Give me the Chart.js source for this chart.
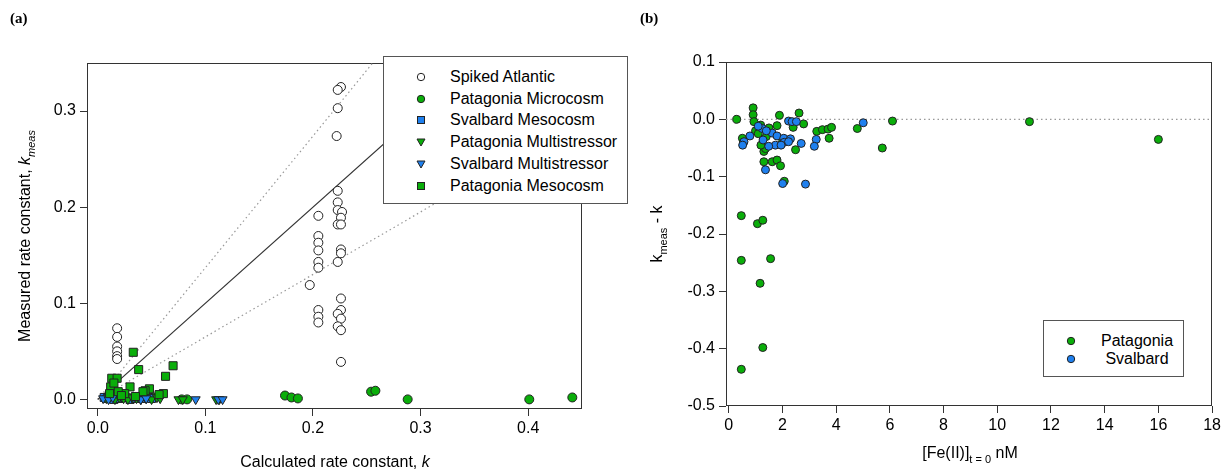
<!DOCTYPE html>
<html>
<head>
<meta charset="utf-8">
<script src="https://cdn.jsdelivr.net/npm/chart.js@4.4.1/dist/chart.umd.min.js"></script>
<style>
  body { margin: 0; background: #fff; }
  #wrap { position: relative; width: 1224px; height: 472px; overflow: hidden;
          font-family: "Liberation Sans", Arial, sans-serif; color: #000; }
  canvas { position: absolute; top: 0; }
  .lbl { position: absolute; font-size: 16px; white-space: nowrap; line-height: 18px; }
  .lbl sub { font-size: 11px; }
  .panel { position: absolute; font: bold 15px "Liberation Serif", "Times New Roman", serif; }
  .legend { position: absolute; background: #fff; border: 1px solid #555; box-sizing: border-box; }
  .row { position: absolute; height: 20px; line-height: 20px; font-size: 16px; white-space: nowrap; }
  .row svg { position: absolute; top: 4px; }
</style>
</head>
<body>
<div id="wrap">
  <canvas id="chartA" width="612" height="472" style="left:0"></canvas>
  <canvas id="chartB" width="612" height="472" style="left:612px"></canvas>

  <div class="panel" style="left:10px;top:10px">(a)</div>
  <div class="panel" style="left:640px;top:10px">(b)</div>

  <div class="lbl" style="left:28px;top:236px;transform:translate(-50%,-50%) rotate(-90deg)">Measured rate constant, <i>k</i><sub><i>meas</i></sub></div>
  <div class="lbl" style="left:335px;top:462px;transform:translate(-50%,-50%)">Calculated rate constant, <i>k</i></div>
  <div class="lbl" style="left:660px;top:234px;transform:translate(-50%,-50%) rotate(-90deg)">k<sub>meas</sub> - k</div>
  <div class="lbl" style="left:970px;top:456px;transform:translate(-50%,-50%)">[Fe(II)]<sub>t = 0</sub> nM</div>

  <div class="legend" id="legA" style="left:383px;top:56px;width:245px;height:148px"></div>
  <div class="legend" id="legB" style="left:1043px;top:320px;width:141px;height:57px"></div>
</div>

<script>
// ---------- panel (a): measured vs calculated rate constant ----------
const kTicksX = [0, 0.1, 0.2, 0.3, 0.4];
const kTicksY = [0, 0.1, 0.2, 0.3];

const spikedX = [0.018, 0.018, 0.018, 0.018, 0.018, 0.018,
  0.205, 0.205, 0.205, 0.205, 0.205, 0.205, 0.197, 0.205, 0.205, 0.205,
  0.226, 0.223, 0.223, 0.222, 0.223, 0.223, 0.223, 0.227, 0.226, 0.223, 0.226,
  0.226, 0.226, 0.223, 0.226, 0.226, 0.223, 0.226, 0.223, 0.226, 0.226];
const spikedY = [0.074, 0.065, 0.055, 0.050, 0.045, 0.042,
  0.191, 0.170, 0.163, 0.155, 0.143, 0.137, 0.119, 0.093, 0.086, 0.080,
  0.325, 0.322, 0.303, 0.274, 0.217, 0.205, 0.197, 0.195, 0.189, 0.182, 0.182,
  0.156, 0.152, 0.143, 0.105, 0.093, 0.089, 0.084, 0.076, 0.072, 0.039];

const patMicroX = [0.013, 0.028, 0.052, 0.078, 0.083, 0.174, 0.180, 0.186, 0.254, 0.258, 0.288, 0.401, 0.441];
const patMicroY = [0.004, 0.002, 0.002, 0.000, 0.000, 0.004, 0.002, 0.001, 0.008, 0.009, 0.000, 0.000, 0.002];

const svalMesoX = [0.006, 0.009, 0.012, 0.015, 0.020, 0.025, 0.030, 0.035, 0.038, 0.041, 0.044, 0.047, 0.050];
const svalMesoY = [0.002, 0.001, 0.003, 0.000, 0.001, 0.002, 0.000, 0.001, 0.002, 0.001, 0.003, 0.002, 0.001];

const patMultiX = [0.008, 0.012, 0.016, 0.020, 0.024, 0.028, 0.032, 0.036, 0.040, 0.045, 0.050, 0.055, 0.058, 0.075, 0.079, 0.110, 0.113];
const patMultiY = [0.001, 0.003, 0.000, 0.002, 0.001, 0.000, 0.002, 0.001, 0.000, 0.001, 0.000, 0.002, 0.001, 0.000, 0.000, 0.000, 0.000];

const svalMultiX = [0.005, 0.010, 0.014, 0.040, 0.045, 0.091, 0.112, 0.116];
const svalMultiY = [0.001, 0.000, 0.002, 0.000, 0.001, 0.000, 0.000, 0.000];

const patMesoX = [0.033, 0.038, 0.070, 0.063, 0.013, 0.018, 0.030, 0.048, 0.044, 0.025, 0.042, 0.061, 0.057, 0.012, 0.011, 0.019, 0.015, 0.022, 0.035];
const patMesoY = [0.049, 0.031, 0.035, 0.024, 0.022, 0.022, 0.013, 0.011, 0.009, 0.006, 0.008, 0.006, 0.005, 0.013, 0.006, 0.008, 0.017, 0.004, 0.003];

// reference lines: 1:1 and the two dotted bounds
const oneToOneX = [0, 0.45], oneToOneY = [0, 0.45];
const upperX = [0, 0.2555], upperY = [0, 0.35];
const lowerX = [0, 0.45], lowerY = [0, 0.2925];

// ---------- panel (b): k_meas - k vs [Fe(II)] ----------
const feTicks = [0, 2, 4, 6, 8, 10, 12, 14, 16, 18];
const diffTicks = [0.1, 0, -0.1, -0.2, -0.3, -0.4, -0.5];

const patFeX = [0.30, 0.91, 0.91, 0.94, 1.89, 2.62, 2.79, 2.40, 1.80, 1.19, 1.00, 3.28, 3.49, 3.70, 3.83, 3.74,
  4.79, 6.10, 5.72, 2.49, 1.31, 1.37, 0.51, 1.31, 1.62, 1.80, 1.93, 2.07, 11.2, 16.0,
  0.47, 1.07, 1.27, 0.47, 1.56, 1.17, 1.27, 0.47, 1.10, 1.40, 1.50, 2.00, 1.20, 0.55];
const patFeY = [0.000, 0.020, 0.008, -0.004, 0.007, 0.011, -0.008, -0.014, -0.011, -0.010, -0.020, -0.021, -0.018, -0.017, -0.014, -0.033,
  -0.016, -0.003, -0.050, -0.053, -0.056, -0.051, -0.033, -0.074, -0.074, -0.071, -0.081, -0.108, -0.004, -0.035,
  -0.168, -0.182, -0.176, -0.246, -0.243, -0.286, -0.398, -0.436, -0.025, -0.030, -0.015, -0.040, -0.045, -0.040];

const svalFeX = [2.23, 2.36, 2.52, 5.01, 1.25, 0.79, 0.57, 0.52, 1.28, 1.62, 1.80, 2.05, 2.30, 2.07, 1.74, 1.49,
  1.95, 2.23, 2.70, 3.26, 3.19, 1.37, 2.01, 2.86, 1.40, 1.10];
const svalFeY = [-0.003, -0.004, -0.004, -0.006, -0.016, -0.029, -0.039, -0.045, -0.036, -0.024, -0.029, -0.033, -0.034, -0.040, -0.045, -0.047,
  -0.045, -0.039, -0.042, -0.035, -0.047, -0.088, -0.112, -0.113, -0.020, -0.012];

const zeroX = [-0.1, 18], zeroY = [0, 0];

const green = '#0aae0a';
const blue = '#1f80ee';
const edge = '#222';

Chart.defaults.font.family = '"Liberation Sans", Arial, sans-serif';
Chart.defaults.font.size = 16;
Chart.defaults.color = '#000';

function pts(xs, ys) {
  return xs.map((x, i) => ({ x: x, y: ys[i] }));
}

// full box around the plot area
const frame = {
  id: 'frame',
  beforeDatasetsDraw(chart) {
    const a = chart.chartArea, ctx = chart.ctx;
    ctx.save();
    ctx.strokeStyle = '#333';
    ctx.lineWidth = 1;
    ctx.strokeRect(Math.round(a.left) + 0.5, Math.round(a.top) + 0.5,
      Math.round(a.right - a.left) - 1, Math.round(a.bottom - a.top) - 1);
    ctx.restore();
  }
};

function axis(min, max, ticks, fmt, size, isX) {
  return {
    type: 'linear',
    min: min,
    max: max,
    afterBuildTicks: s => { s.ticks = ticks.map(v => ({ value: v })); },
    afterFit: s => { if (isX) s.height = size; else s.width = size; },
    ticks: { callback: fmt, padding: isX ? 3 : 4, maxRotation: 0, autoSkip: false, font: { size: 16 } },
    grid: { drawOnChartArea: false, tickLength: 7, color: '#333' },
    border: { display: false }
  };
}

function markers(label, xs, ys, style, radius, fill, extra) {
  return Object.assign({
    label: label,
    data: pts(xs, ys),
    pointStyle: style,
    pointRadius: radius,
    pointHoverRadius: radius,
    pointBackgroundColor: fill,
    pointBorderColor: edge,
    pointBorderWidth: 1,
    order: 1
  }, extra || {});
}

function refLine(xs, ys, color, dash) {
  return {
    data: pts(xs, ys),
    showLine: true,
    borderColor: color,
    borderWidth: 1.2,
    borderDash: dash,
    pointRadius: 0,
    order: 10
  };
}

const fmt1 = v => Number(v).toFixed(1);

new Chart(document.getElementById('chartA'), {
  type: 'scatter',
  data: {
    datasets: [
      refLine(oneToOneX, oneToOneY, '#333', []),
      refLine(upperX, upperY, '#999', [1.5, 3]),
      refLine(lowerX, lowerY, '#999', [1.5, 3]),
      markers('Patagonia Mesocosm', patMesoX, patMesoY, 'rect', 5.7, green),
      markers('Svalbard Multistressor', svalMultiX, svalMultiY, 'triangle', 5.2, blue, { pointRotation: 180 }),
      markers('Patagonia Multistressor', patMultiX, patMultiY, 'triangle', 5.2, green, { pointRotation: 180 }),
      markers('Svalbard Mesocosm', svalMesoX, svalMesoY, 'rect', 5.7, blue),
      markers('Patagonia Microcosm', patMicroX, patMicroY, 'circle', 4.5, green),
      markers('Spiked Atlantic', spikedX, spikedY, 'circle', 4.5, '#fff')
    ]
  },
  options: {
    responsive: false,
    animation: false,
    layout: { padding: { left: 0, top: 63, right: 30, bottom: 0 } },
    plugins: { legend: { display: false }, tooltip: { enabled: false } },
    scales: {
      x: axis(-0.01, 0.45, kTicksX, fmt1, 63, true),
      y: axis(-0.01, 0.35, kTicksY, fmt1, 87, false)
    }
  },
  plugins: [frame]
});

new Chart(document.getElementById('chartB'), {
  type: 'scatter',
  data: {
    datasets: [
      refLine(zeroX, zeroY, '#999', [1.5, 3]),
      markers('Svalbard', svalFeX, svalFeY, 'circle', 4, blue),
      markers('Patagonia', patFeX, patFeY, 'circle', 4, green)
    ]
  },
  options: {
    responsive: false,
    animation: false,
    layout: { padding: { left: 0, top: 62, right: 10, bottom: 0 } },
    plugins: { legend: { display: false }, tooltip: { enabled: false } },
    scales: {
      x: axis(-0.1, 18, feTicks, v => String(v), 66, true),
      y: axis(-0.5, 0.1, diffTicks, fmt1, 114, false)
    }
  },
  plugins: [frame]
});

// ---------- legends ----------
const legendA = [
  ['Spiked Atlantic', 'circle', '#fff'],
  ['Patagonia Microcosm', 'circle', green],
  ['Svalbard Mesocosm', 'square', blue],
  ['Patagonia Multistressor', 'down', green],
  ['Svalbard Multistressor', 'down', blue],
  ['Patagonia Mesocosm', 'square', green]
];
const legendB = [
  ['Patagonia', 'circle', green],
  ['Svalbard', 'circle', blue]
];

function glyph(shape, fill) {
  let s;
  if (shape === 'circle') s = '<circle cx="6" cy="6" r="3.7"';
  else if (shape === 'square') s = '<rect x="2.5" y="2.5" width="7" height="7"';
  else s = '<polygon points="2,3 10,3 6,10"';
  return '<svg width="12" height="12">' + s + ' fill="' + fill + '" stroke="#222" stroke-width="1"/></svg>';
}

const legA = document.getElementById('legA');
legendA.forEach((r, i) => {
  const top = 10 + i * 21.7;
  legA.insertAdjacentHTML('beforeend',
    '<div class="row" style="left:31px;top:' + top + 'px">' + glyph(r[1], r[2]) +
    '<span style="position:absolute;left:35px">' + r[0] + '</span></div>');
});

const legB = document.getElementById('legB');
legendB.forEach((r, i) => {
  const top = 9.5 + i * 18;
  legB.insertAdjacentHTML('beforeend',
    '<div class="row" style="left:21px;top:' + top + 'px;width:110px">' + glyph(r[1], r[2]) +
    '<span style="position:absolute;left:27px;width:90px;text-align:center">' + r[0] + '</span></div>');
});
</script>
</body>
</html>
